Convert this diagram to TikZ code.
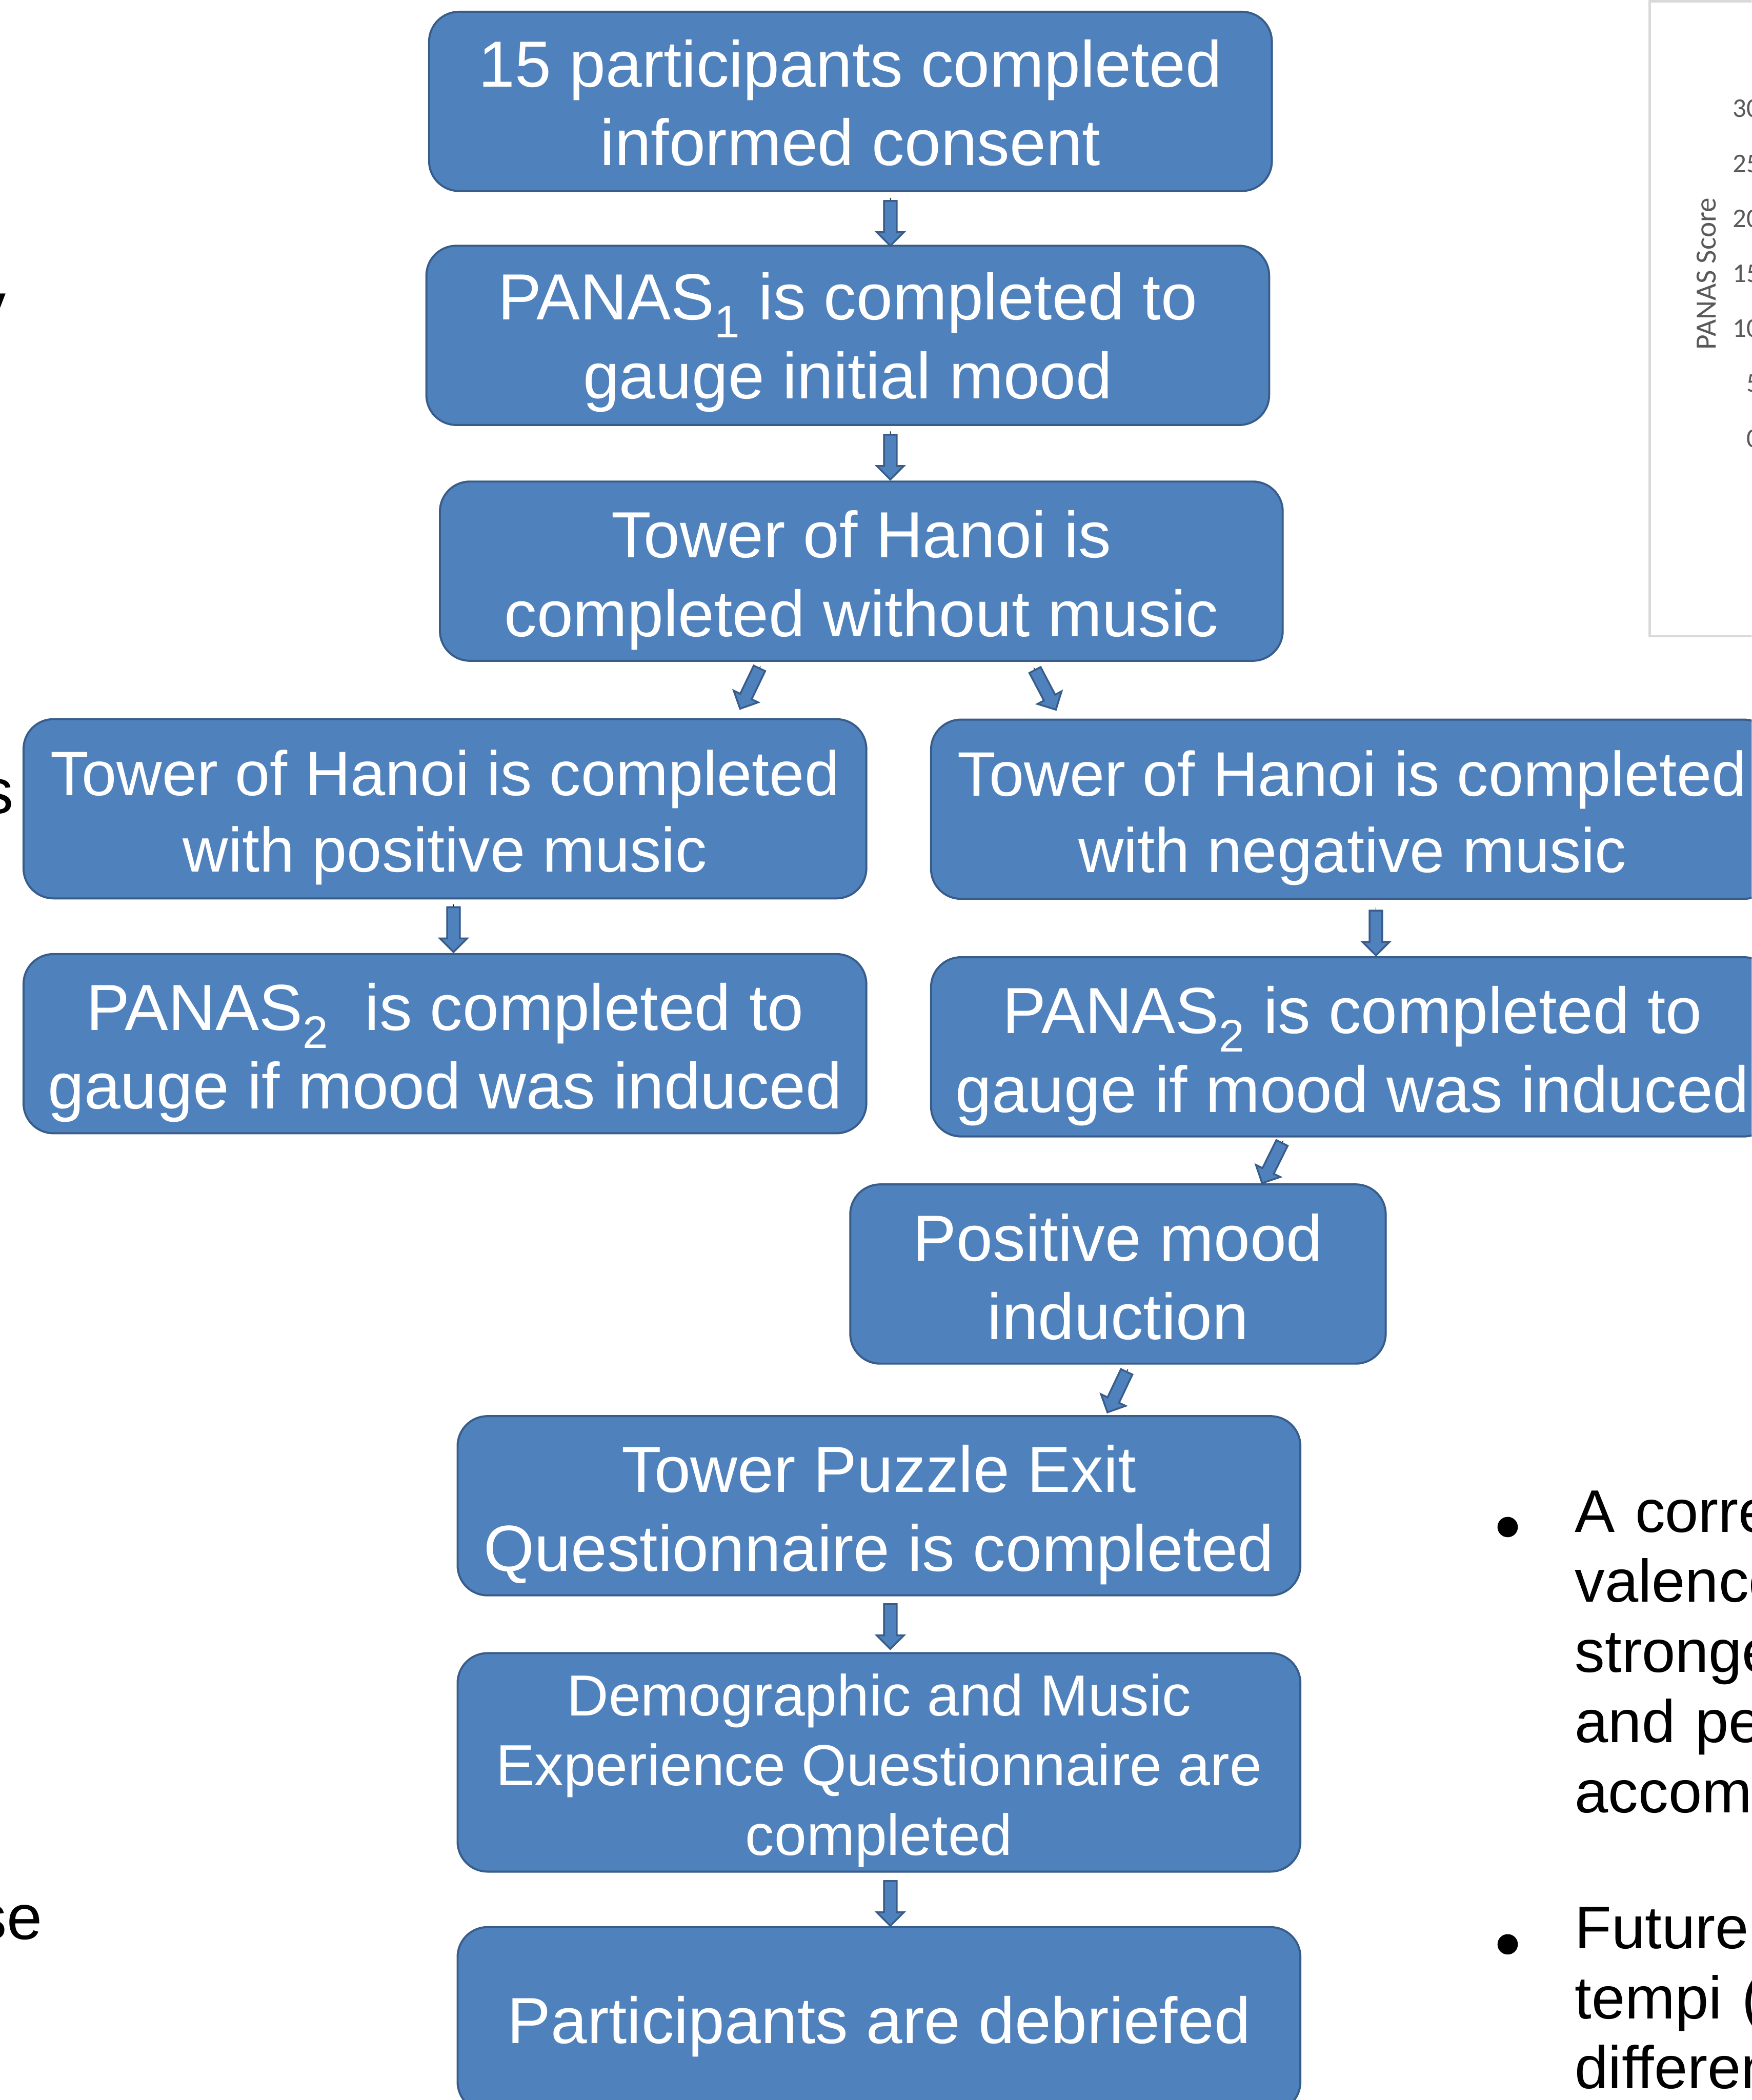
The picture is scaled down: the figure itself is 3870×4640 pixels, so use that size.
\documentclass[tikz,border=0pt]{standalone}
\usepackage{fontspec}
\setmainfont{Liberation Sans}
\newfontfamily\chartfont{Carlito}
\usetikzlibrary{positioning, shapes.arrows}

\definecolor{boxblue}{HTML}{4F81BD}
\definecolor{boxedge}{HTML}{385D8A}
\definecolor{framegrey}{HTML}{D9D9D9}
\definecolor{labelgrey}{HTML}{595959}

\begin{document}
\begin{tikzpicture}[x=0.1mm, y=-0.1mm, on grid,
        stagebox/.style={rectangle, rounded corners=6.6mm, draw=boxedge, line width=0.45mm, fill=boxblue, text=white, align=flush center, text width=182mm, text height=41pt, minimum width=186.2mm, minimum height=39.6mm, inner sep=1mm, font=\fontsize{41}{49.5}\selectfont},
        flowarrow/.style={single arrow, draw=boxedge, line width=0.4mm, fill=boxblue, minimum height=9.9mm, single arrow head extend=1.6mm, inner xsep=0pt, inner ysep=1.2mm, sloped, allow upside down},
        cuttext/.style={inner sep=0pt, font=\fontsize{40}{49.5}\selectfont},
        pointtext/.style={inner sep=0pt, align=left, text width=100mm, font=\fontsize{37.8}{44.1}\selectfont},
        pointdot/.style={circle, fill=black, inner sep=0pt, minimum size=4.5mm},
        ticklabel/.style={inner sep=0pt, anchor=east, text=labelgrey, font=\chartfont\fontsize{17}{19}\selectfont}]
        \useasboundingbox (0,0) rectangle (3870,4640);
        \clip (0,0) rectangle (3870,4640);
        % Neighbouring chart
        \draw[framegrey, line width=0.5mm, fill=white] (3645,3) rectangle (3960,1406);
        \node[rotate=90, inner sep=0pt, text=labelgrey, font=\chartfont\fontsize{18.5}{20}\selectfont] (scorelabel) at (3770,605) {PANAS Score};
        \foreach \v [count=\i from 0] in {30,25,...,0}
            \node[ticklabel] (tick\v) at (3890,{240+121.5*\i}) {\v};
        % Neighbouring text
        \node[cuttext, anchor=base east] (cutA) at (14,723) {y};
        \node[cuttext, anchor=base east] (cutB) at (31,1797) {s};
        \node[cuttext, anchor=base east] (cutC) at (94,4285) {se};
        \node[pointdot] (dot1) at (3331,3374) {};
        \node[pointtext, anchor=base west] (point1) at (3479,3385) {A corre\\valence\\stronge\\and pe\\accomp};
        \node[pointdot] (dot2) at (3331,4296) {};
        \node[pointtext, anchor=base west] (point2) at (3479,4305) {Future\\tempi (\\differen};
        % Define the nodes
        \node[stagebox, text height=31.6pt] (consent) at (1879,224) {15 participants completed\\informed consent};
        \node[stagebox, text height=38.3pt, below=51.7mm of consent, xshift=-0.6mm] (panas1) {PANAS\textsubscript{1} is completed to\\gauge initial mood};
        \node[stagebox, below=52.1mm of panas1, xshift=3mm] (silent) {Tower of Hanoi is\\completed without music};
        \node[stagebox, font=\fontsize{39.5}{48}\selectfont, text height=39.6pt, below left=52.5mm and 92mm of silent] (posmusic) {Tower of Hanoi is completed\\with positive music};
        \node[stagebox, font=\fontsize{39.5}{48}\selectfont, text height=39.6pt, below right=52.6mm and 108.5mm of silent] (negmusic) {Tower of Hanoi is completed\\with negative music};
        \node[stagebox, below=51.9mm of posmusic] (panas2pos) {PANAS\textsubscript{2} \ is completed to\\gauge if mood was induced};
        \node[stagebox, below=52.5mm of negmusic] (panas2neg) {PANAS\textsubscript{2} is completed to\\gauge if mood was induced};
        \node[stagebox, text width=114mm, minimum width=118.3mm, text height=33.3pt, below left=50.2mm and 51.8mm of panas2neg] (induction) {Positive mood\\induction};
        \node[stagebox, below left=51.2mm and 52.8mm of induction] (exitq) {Tower Puzzle Exit\\Questionnaire is completed};
        \node[stagebox, minimum height=46.2mm, font=\fontsize{36.4}{43.8}\selectfont, text height=36.5pt, below=56.7mm of exitq] (demog) {Demographic and Music\\Experience Questionnaire are\\completed};
        \node[stagebox, minimum height=40.8mm, text height=38.3pt, below=56.8mm of demog] (debrief) {Participants are debriefed};
        % Define the transitions
        \path
        ([shift={(88,13)}]consent.south) edge node[flowarrow] {} ([shift={(94,-5)}]panas1.north)
        ([shift={(94,12)}]panas1.south) edge node[flowarrow] {} ([shift={(64,-9)}]silent.north)
        ([shift={(-223,10)}]silent.south) edge node[flowarrow] {} ([shift={(656,-29)}]posmusic.north)
        ([shift={(381,13)}]silent.south) edge node[flowarrow] {} ([shift={(-659,-27)}]negmusic.north)
        ([shift={(19,11)}]posmusic.south) edge node[flowarrow] {} ([shift={(19,-10)}]panas2pos.north)
        ([shift={(52,17)}]negmusic.south) edge node[flowarrow] {} ([shift={(52,-9)}]panas2neg.north)
        ([shift={(-153,7)}]panas2neg.south) edge node[flowarrow] {} ([shift={(322,-8)}]induction.north)
        ([shift={(22,10)}]induction.south) edge node[flowarrow] {} ([shift={(508,-13)}]exitq.north)
        ([shift={(25,16)}]exitq.south) edge node[flowarrow] {} ([shift={(25,-20)}]demog.north)
        ([shift={(25,19)}]demog.south) edge node[flowarrow] {} ([shift={(25,-15)}]debrief.north);
\end{tikzpicture}
\end{document}
